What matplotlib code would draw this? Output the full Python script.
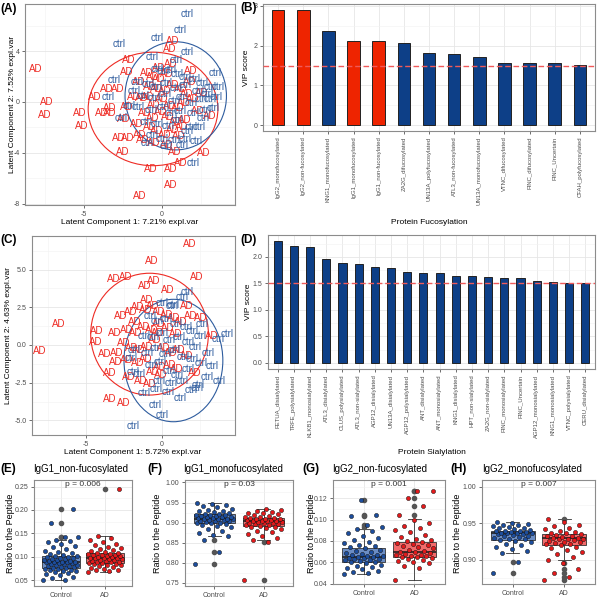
import numpy as np
import matplotlib
matplotlib.use("Agg")
import matplotlib.pyplot as plt
from matplotlib.patches import Ellipse

plt.rcParams['font.family'] = ['Liberation Sans', 'DejaVu Sans']

AD_COL = '#EE2B24'
CTRL_COL = '#2E5C9E'

# ---- (A) PLS-DA scores, fucosylation ----
a_ad = [(-8.14, 2.59), (-7.4, 0.0), (-7.5, -1.0), (-5.3, -0.9), (-5.15, -1.86), (-4.3, 0.37),
        (-3.85, -0.89), (-3.33, -0.89), (-3.55, 1.0), (-2.86, 1.0), (-3.33, -0.5), (-2.8, -2.85),
        (-2.2, -2.85), (-2.5, -3.95), (-1.45, -2.6), (-1.2, -3.0), (-2.26, 2.33), (-2.16, 3.3),
        (-2.26, -0.4), (-2.44, -1.33), (-1.84, 0.42), (-1.3, 0.3), (0.51, 4.16), (0.72, 4.78),
        (1.84, 2.4), (2.7, -4.0), (3.08, -1.1), (1.22, -4.8), (-0.73, -5.28), (0.56, -5.28),
        (0.58, -6.56), (-1.41, -7.37), (2.54, 0.73), (1.5, -1.4),
        (-1.0, 2.3), (-0.6, 2.0), (-0.2, 1.8), (0.3, 2.2), (-0.8, 1.2), (-0.3, 1.0), (0.2, 0.9),
        (0.7, 1.3), (1.2, 1.0), (1.6, 0.6), (-1.5, 1.6), (-0.9, 0.4), (-0.5, -0.2), (0.0, 0.2),
        (0.5, -0.3), (1.0, -0.5), (1.4, -0.1), (2.0, 0.2), (-1.1, -0.9), (-0.6, -1.3), (-0.1, -0.8),
        (0.4, -1.2), (0.9, -1.6), (1.3, -2.0), (-0.8, -2.0), (-0.3, -2.3), (0.2, -2.6), (0.7, -2.2),
        (1.1, -2.7), (-0.5, -3.2), (0.3, -3.4), (0.8, -3.9), (2.3, -0.7), (-1.6, -1.7), (1.8, 1.6),
        (-0.2, 2.7), (0.6, 3.0)]
a_ctrl = [(1.62, 6.9), (1.15, 5.65), (-2.76, 4.55), (-0.3, 5.04), (-0.62, 3.55), (1.62, 3.9),
          (0.94, 3.3), (-3.08, 1.73), (3.4, 2.25), (3.6, 1.15), (3.08, 0.2), (2.65, -1.28),
          (1.86, -1.94), (-0.98, -3.19), (2.0, -4.8), (1.3, -3.4), (0.3, -3.5), (-3.44, 0.37),
          (-2.6, -1.3), (-1.62, 1.6),
          (-0.3, 2.6), (0.1, 2.4), (0.5, 2.5), (1.0, 2.2), (1.5, 2.0), (2.1, 1.8), (2.6, 1.5),
          (3.1, 1.2), (-0.9, 1.4), (-0.4, 1.2), (0.3, 1.5), (0.9, 1.1), (1.5, 1.3), (2.3, 0.9),
          (2.9, 0.6), (3.5, 0.4), (-1.2, 0.5), (-0.5, 0.3), (0.2, 0.6), (0.8, 0.1), (1.3, 0.4),
          (1.9, -0.1), (2.5, 0.2), (3.3, -0.5), (-1.5, -0.4), (-0.7, -0.6), (0.1, -0.4), (0.6, -0.9),
          (1.2, -0.7), (2.0, -0.9), (2.8, -0.6), (-1.0, -1.6), (-0.3, -1.7), (0.4, -1.9), (1.0, -1.4),
          (1.6, -2.3), (2.4, -2.0), (-0.6, -2.6), (0.0, -2.9), (0.8, -3.0), (1.5, -2.9), (2.2, -3.1),
          (-1.8, 0.9), (-2.1, -0.3)]
# ellipses: centre x, centre y, width, height, angle
a_ad_ell = (-0.57, -0.55, 8.34, 8.92, 0)
a_ctrl_ell = (0.89, 0.48, 6.52, 8.5, 0)

# ---- (C) PLS-DA scores, sialylation ----
c_ad = [(1.8, 6.7), (-0.68, 5.6), (-3.16, 4.36), (-2.37, 4.53), (-1.12, 3.94), (-0.53, 4.27),
        (2.28, 4.49), (0.37, 3.65), (-1.0, 2.99), (-6.78, 1.37), (-8.03, -0.38), (-4.3, 0.95),
        (-4.34, 0.18), (-3.75, -0.6), (-3.03, -1.15), (-3.47, -1.84), (-3.42, -3.6), (-2.54, -3.87),
        (-2.98, -0.51), (-3.09, 0.82), (-2.7, 1.92), (-2.04, 2.21), (-1.8, 1.5), (1.62, 2.59),
        (1.89, 1.92), (2.57, 1.77), (3.27, 0.62), (2.17, -1.84), (1.6, -0.7), (-2.2, -2.14),
        (-0.13, -1.44),
        (-1.6, 2.5), (-1.1, 2.3), (-0.6, 2.6), (-0.2, 2.2), (0.3, 2.0), (0.8, 1.8), (1.2, 1.5),
        (-2.3, 1.0), (-1.7, 0.8), (-1.2, 1.2), (-0.7, 1.0), (-0.2, 1.4), (0.4, 1.1), (0.9, 0.7),
        (-2.5, 0.1), (-2.0, -0.2), (-1.5, -0.3), (-1.0, -0.1), (-0.5, 0.3), (0.1, -0.2), (0.6, -0.5),
        (1.1, -0.3), (-2.3, -1.0), (-1.6, -1.2), (-1.1, -0.9), (-0.6, -1.8), (-0.1, -2.0), (0.5, -1.3),
        (1.0, -1.6), (-1.4, -2.4), (-0.8, -2.6), (-0.3, 0.8)]
c_ctrl = [(1.62, 3.54), (1.3, 3.2), (0.74, 2.65), (4.26, 0.73), (3.7, 0.38), (2.5, 0.62),
          (3.05, -0.55), (2.61, 1.37), (3.77, -2.37), (1.3, -2.37), (2.39, -2.65), (2.3, -2.85),
          (1.18, -3.54), (0.41, -3.1), (-0.4, -2.9), (-1.93, -1.77), (-1.5, -1.9), (-2.0, -0.88),
          (-1.84, -0.3), (-0.46, -3.98), (0.04, -4.64), (-1.89, -5.37), (2.94, -2.1), (0.0, 2.8),
          (0.64, 2.6),
          (-0.8, 1.9), (-0.3, 1.6), (0.3, 1.7), (0.9, 1.4), (1.6, 1.2), (2.0, 0.9), (-1.2, 0.6),
          (-0.6, 0.5), (0.0, 0.8), (0.5, 0.3), (1.1, 0.5), (1.7, 0.2), (2.2, -0.1), (-1.0, -0.5),
          (-0.4, -0.2), (0.2, -0.6), (0.8, -0.3), (1.4, -0.8), (2.0, -0.9), (2.6, -1.2), (-0.7, -1.3),
          (-0.1, -1.1), (0.5, -1.7), (1.0, -2.0), (1.7, -1.6), (-0.2, -2.4), (0.6, -2.5), (1.9, -3.0),
          (3.3, -1.4), (-1.2, -3.2)]
c_ad_ell = (-0.82, 0.72, 7.74, 8.08, 0)
c_ctrl_ell = (0.75, -1.03, 6.5, 8.12, 0)

# ---- (B) VIP scores, fucosylation ----
fuc_names = ['IgG2_monofucosylated', 'IgG2_non-fucosylated', 'KNG1_monofucosylated',
             'IgG1_monofucosylated', 'IgG1_non-fucosylated', 'ZA2G_difucosylated',
             'UN13A_polyfucosylated', 'ATL3_non-fucosylated', 'UN13A_monofucosylated',
             'VTNC_difucosylated', 'FINC_difucosylated', 'FINC_Uncertain', 'CFAH_polyfucosylated']
fuc_vip = [2.9, 2.9, 2.375, 2.125, 2.125, 2.07, 1.82, 1.80, 1.725, 1.57, 1.56, 1.56, 1.52]
fuc_igg = [True, True, False, True, True, False, False, False, False, False, False, False, False]

# ---- (D) VIP scores, sialylation ----
sia_names = ['FETUA_disialylated', 'TRFE_polysialylated', 'KLKB1_monosialylated', 'ATL3_disialylated',
             'CLUS_polysialylated', 'ATL3_non-sialylated', 'AGP12_disialylated', 'UN13A_disialylated',
             'AGP12_polysialylated', 'ANT_disialylated', 'ANT_monosialylated', 'KNG1_disialylated',
             'HPT_non-sialylated', 'ZA2G_non-sialylated', 'FINC_monosialylated', 'FINC_Uncertain',
             'AGP12_monosialylated', 'KNG1_monosialylated', 'VTNC_polysialylated', 'CERU_disialylated']
sia_vip = [2.30, 2.21, 2.18, 1.97, 1.89, 1.86, 1.81, 1.79, 1.72, 1.69,
           1.69, 1.64, 1.64, 1.62, 1.60, 1.60, 1.55, 1.53, 1.51, 1.50]

# ---- (E)-(H) ratios to the peptide ----
e_ctrl = [0.050, 0.050, 0.055, 0.058, 0.061, 0.063, 0.065, 0.067, 0.069, 0.070, 0.072, 0.073, 0.074,
          0.075, 0.076, 0.077, 0.078, 0.079, 0.080, 0.081, 0.082, 0.083, 0.084, 0.085, 0.086, 0.087,
          0.088, 0.088, 0.089, 0.089, 0.090, 0.091, 0.092, 0.093, 0.094, 0.095, 0.096, 0.097, 0.098,
          0.099, 0.100, 0.101, 0.102, 0.104, 0.106, 0.108, 0.110, 0.113, 0.116, 0.120, 0.124, 0.128,
          0.131, 0.134, 0.137, 0.142, 0.143, 0.172, 0.203]
e_ad = [0.067, 0.069, 0.071, 0.073, 0.075, 0.077, 0.079, 0.080, 0.082, 0.083, 0.084, 0.085, 0.086,
        0.087, 0.088, 0.089, 0.090, 0.091, 0.092, 0.093, 0.094, 0.095, 0.096, 0.097, 0.097, 0.098,
        0.098, 0.099, 0.100, 0.101, 0.102, 0.103, 0.104, 0.105, 0.106, 0.107, 0.108, 0.109, 0.110,
        0.112, 0.114, 0.116, 0.119, 0.122, 0.125, 0.128, 0.131, 0.135, 0.140, 0.145, 0.245]
f_ctrl = [0.797, 0.828, 0.857, 0.866, 0.870, 0.875, 0.880, 0.884, 0.888, 0.891, 0.894, 0.896, 0.898,
          0.899, 0.900, 0.902, 0.903, 0.904, 0.905, 0.906, 0.907, 0.908, 0.909, 0.910, 0.910, 0.911,
          0.912, 0.913, 0.914, 0.915, 0.916, 0.917, 0.918, 0.919, 0.920, 0.921, 0.922, 0.924, 0.926,
          0.928, 0.930, 0.932, 0.935, 0.938, 0.941, 0.944, 0.947, 0.950]
f_ad = [0.757, 0.852, 0.857, 0.862, 0.867, 0.872, 0.876, 0.880, 0.883, 0.886, 0.888, 0.890, 0.891,
        0.893, 0.894, 0.896, 0.897, 0.898, 0.899, 0.900, 0.901, 0.902, 0.903, 0.903, 0.904, 0.905,
        0.906, 0.907, 0.908, 0.909, 0.910, 0.911, 0.912, 0.913, 0.915, 0.917, 0.919, 0.921, 0.923,
        0.925, 0.927, 0.929, 0.931, 0.933]
g_ctrl = [0.049, 0.050, 0.051, 0.052, 0.054, 0.055, 0.056, 0.057, 0.058, 0.059, 0.060, 0.060, 0.061,
          0.062, 0.062, 0.063, 0.063, 0.064, 0.064, 0.065, 0.065, 0.066, 0.066, 0.067, 0.067, 0.068,
          0.069, 0.070, 0.071, 0.072, 0.073, 0.074, 0.075, 0.076, 0.078, 0.079, 0.081, 0.083, 0.085,
          0.087, 0.089, 0.091, 0.093, 0.095, 0.103, 0.104, 0.118]
g_ad = [0.0436, 0.055, 0.057, 0.059, 0.060, 0.061, 0.062, 0.063, 0.064, 0.065, 0.065, 0.066, 0.066,
        0.067, 0.067, 0.068, 0.069, 0.070, 0.070, 0.071, 0.072, 0.073, 0.074, 0.075, 0.076, 0.077,
        0.078, 0.079, 0.080, 0.081, 0.082, 0.084, 0.086, 0.088, 0.090, 0.092, 0.094, 0.097, 0.100,
        0.104, 0.113, 0.120, 0.127, 0.127]
h_ctrl = [0.882, 0.897, 0.909, 0.912, 0.915, 0.918, 0.920, 0.922, 0.924, 0.926, 0.927, 0.928, 0.929,
          0.930, 0.931, 0.932, 0.933, 0.934, 0.935, 0.935, 0.936, 0.936, 0.937, 0.937, 0.938, 0.938,
          0.939, 0.939, 0.940, 0.941, 0.942, 0.943, 0.944, 0.945, 0.946, 0.947, 0.948, 0.949, 0.950, 0.951]
h_ad = [0.873, 0.877, 0.882, 0.887, 0.895, 0.900, 0.904, 0.908, 0.911, 0.914, 0.916, 0.918, 0.920,
        0.921, 0.922, 0.923, 0.924, 0.925, 0.926, 0.927, 0.928, 0.929, 0.929, 0.930, 0.930, 0.931,
        0.932, 0.933, 0.934, 0.935, 0.936, 0.937, 0.938, 0.940, 0.942, 0.944, 0.946, 0.948, 0.951, 0.956]

# box stats: (lower whisker, q1, median, q3, upper whisker)
e_stats = [(0.050, 0.077, 0.089, 0.1015, 0.137), (0.067, 0.086, 0.098, 0.109, 0.145)]
f_stats = [(0.866, 0.899, 0.910, 0.921, 0.950), (0.857, 0.891, 0.903, 0.9125, 0.933)]
g_stats = [(0.049, 0.060, 0.0654, 0.0733, 0.091), (0.0436, 0.0648, 0.0701, 0.0789, 0.1004)]
h_stats = [(0.909, 0.9273, 0.9364, 0.9396, 0.951), (0.900, 0.9205, 0.9296, 0.935, 0.9555)]

groups = ['Control', 'AD']

fig = plt.figure(figsize=(6, 6), dpi=100)


def add_ax(l, t, w, h):
    return fig.add_axes([l / 600, 1 - (t + h) / 600, w / 600, h / 600])


def frame(ax):
    ax.set_facecolor('white')
    for s in ax.spines.values():
        s.set_color('#8C8C8C')
        s.set_linewidth(0.8)
    ax.grid(True, which='major', color='#E6E6E6', lw=0.6)
    ax.grid(True, which='minor', color='#F2F2F2', lw=0.4)
    ax.set_axisbelow(True)
    ax.tick_params(which='major', length=2.5, width=0.6, color='#555555',
                   labelsize=5, labelcolor='#4D4D4D', pad=1.5)
    ax.tick_params(which='minor', length=0)


def ptext(x, y, s, **kw):
    # x, y in pixels from the top-left corner
    fig.text(x / 600, 1 - y / 600, s, **kw)


def score_plot(ax, ad_pts, ctrl_pts, ad_ell, ctrl_ell):
    frame(ax)
    for x, y in ad_pts:
        ax.text(x, y, 'AD', color=AD_COL, fontsize=7, ha='center', va='center', clip_on=True)
    for x, y in ctrl_pts:
        ax.text(x, y, 'ctrl', color=CTRL_COL, fontsize=7, ha='center', va='center', clip_on=True)
    for e, c in [(ad_ell, AD_COL), (ctrl_ell, CTRL_COL)]:
        ax.add_patch(Ellipse((e[0], e[1]), e[2], e[3], angle=e[4], fill=False, ec=c, lw=0.8))


def vip_plot(ax, names, vals, colors, ymax):
    frame(ax)
    x = np.arange(len(names))
    ax.bar(x, vals, width=0.5, color=colors, edgecolor='#222222', linewidth=0.7, zorder=2)
    ax.axhline(1.5, color='#F05A5A', ls=(0, (4, 2)), lw=1.0, zorder=3)
    ax.set_xlim(-0.6, len(names) - 0.4)
    ax.set_ylim(-0.05 * ymax, 1.05 * ymax)
    ax.set_xticks(x)
    ax.set_xticklabels(names, rotation=90, fontsize=4.3)


def box_plot(ax, data, stats, title, pval):
    frame(ax)
    bx = []
    for vals, (lo, q1, med, q3, hi) in zip(data, stats):
        bx.append(dict(whislo=lo, q1=q1, med=med, q3=q3, whishi=hi,
                       fliers=[v for v in vals if v < lo or v > hi]))
    art = ax.bxp(bx, positions=[1, 2], widths=0.85, patch_artist=True, capwidths=0.25,
                 boxprops=dict(edgecolor='#333333', linewidth=0.6),
                 medianprops=dict(color='#222222', linewidth=1.2),
                 whiskerprops=dict(color='#333333', linewidth=0.6),
                 capprops=dict(color='#333333', linewidth=0.6),
                 flierprops=dict(marker='o', markerfacecolor='#555555', markeredgecolor='#555555',
                                 markersize=3))
    for patch, fc in zip(art['boxes'], ['#6B8DC4', '#F26B6B']):
        patch.set_facecolor(fc)
    for i, (vals, pc) in enumerate(zip(data, ['#1D4E9E', '#E41A1C'])):
        n = len(vals)
        jit = ((np.arange(n) * 0.6180339887) % 1.0 - 0.5) * 0.78
        ax.scatter(i + 1 + jit, vals, s=9, color=pc, edgecolor='#111111', linewidth=0.35, zorder=4)
    ax.set_xlim(0.4, 2.6)
    ax.set_xticks([1, 2])
    ax.set_xticklabels(groups)
    ax.text(1.5, 0.96, pval, transform=ax.get_xaxis_transform(), ha='center', va='center',
            fontsize=6, color='#333333')


# (A)
ax = add_ax(25, 4, 210, 201)
score_plot(ax, a_ad, a_ctrl, a_ad_ell, a_ctrl_ell)
ax.set_xlim(-8.8, 4.7)
ax.set_ylim(-8.1, 7.7)
ax.set_xticks([-5, 0])
ax.set_xticklabels(['-5', '0'])
ax.set_xticks([-7.5, -2.5, 2.5], minor=True)
ax.set_yticks([-8, -4, 0, 4])
ax.set_yticklabels(['-8', '-4', '0', '4'])
ax.set_yticks([-6, -2, 2, 6], minor=True)

# (C)
ax = add_ax(32, 236, 203, 199)
score_plot(ax, c_ad, c_ctrl, c_ad_ell, c_ctrl_ell)
ax.set_xlim(-8.55, 4.8)
ax.set_ylim(-5.97, 7.23)
ax.set_xticks([-5, 0])
ax.set_xticklabels(['-5', '0'])
ax.set_xticks([-7.5, -2.5, 2.5], minor=True)
ax.set_yticks([-5, -2.5, 0, 2.5, 5])
ax.set_yticklabels(['-5.0', '-2.5', '0.0', '2.5', '5.0'])
ax.set_yticks([-3.75, -1.25, 1.25, 3.75, 6.25], minor=True)

# (B)
ax = add_ax(263, 4, 332, 127)
vip_plot(ax, fuc_names, fuc_vip, ['#EE2400' if r else '#0D3F87' for r in fuc_igg], 2.9)
ax.set_yticks([0, 1, 2, 3])
ax.set_yticks([0.5, 1.5, 2.5], minor=True)

# (D)
ax = add_ax(268, 235, 327, 134)
vip_plot(ax, sia_names, sia_vip, ['#0D3F87'] * len(sia_names), 2.30)
ax.set_yticks([0, 0.5, 1.0, 1.5, 2.0])
ax.set_yticklabels(['0.0', '0.5', '1.0', '1.5', '2.0'])
ax.set_yticks([0.25, 0.75, 1.25, 1.75, 2.25], minor=True)

# (E)
ax = add_ax(34, 480, 98, 106)
box_plot(ax, [e_ctrl, e_ad], e_stats, 'IgG1_non-fucosylated', 'p = 0.006')
ax.set_ylim(0.0378, 0.264)
ax.set_yticks([0.05, 0.10, 0.15, 0.20, 0.25])
ax.set_yticklabels(['0.05', '0.10', '0.15', '0.20', '0.25'])
ax.set_yticks([0.075, 0.125, 0.175, 0.225], minor=True)

# (F)
ax = add_ax(185, 480, 108, 106)
box_plot(ax, [f_ctrl, f_ad], f_stats, 'IgG1_monofucosylated', 'p = 0.03')
ax.set_ylim(0.7425, 1.006)
ax.set_yticks([0.75, 0.80, 0.85, 0.90, 0.95, 1.00])
ax.set_yticklabels(['0.75', '0.80', '0.85', '0.90', '0.95', '1.00'])
ax.set_yticks([0.775, 0.825, 0.875, 0.925, 0.975], minor=True)

# (G)
ax = add_ax(333, 480, 112, 104)
box_plot(ax, [g_ctrl, g_ad], g_stats, 'IgG2_non-fucosylated', 'p = 0.001')
ax.set_ylim(0.0398, 0.137)
ax.set_yticks([0.04, 0.06, 0.08, 0.10, 0.12])
ax.set_yticklabels(['0.04', '0.06', '0.08', '0.10', '0.12'])
ax.set_yticks([0.05, 0.07, 0.09, 0.11, 0.13], minor=True)

# (H)
ax = add_ax(482, 480, 113, 104)
box_plot(ax, [h_ctrl, h_ad], h_stats, 'IgG2_monofucosylated', 'p = 0.007')
ax.set_ylim(0.867, 1.009)
ax.set_yticks([0.90, 0.95, 1.00])
ax.set_yticklabels(['0.90', '0.95', '1.00'])
ax.set_yticks([0.875, 0.925, 0.975], minor=True)

# panel letters
bold = dict(fontsize=8.5, fontweight='bold', ha='left', va='center')
for lab, x, y in [('(A)', 0, 9), ('(B)', 240, 8), ('(C)', 0, 240), ('(D)', 240, 240),
                  ('(E)', 0, 469), ('(F)', 147, 469), ('(G)', 302, 469), ('(H)', 450, 469)]:
    ptext(x, y, lab, **bold)

# panel titles for the box plots
for lab, x in [('IgG1_non-fucosylated', 33), ('IgG1_monofucosylated', 183),
               ('IgG2_non-fucosylated', 332), ('IgG2_monofucosylated', 482)]:
    ptext(x, 469, lab, fontsize=7, ha='left', va='center')

# axis titles
ax_t = dict(fontsize=6, ha='center', va='center')
ptext(130, 222, 'Latent Component 1: 7.21% expl.var', **ax_t)
ptext(13, 104, 'Latent Component 2: 7.52% expl.var', rotation=90, **ax_t)
ptext(133, 452, 'Latent Component 1: 5.72% expl.var', **ax_t)
ptext(9, 335, 'Latent Component 2: 4.63% expl.var', rotation=90, **ax_t)
ptext(429, 222, 'Protein Fucosylation', **ax_t)
ptext(432, 452, 'Protein Sialylation', **ax_t)
ptext(247, 68, 'VIP score', rotation=90, **ax_t)
ptext(249, 302, 'VIP score', rotation=90, **ax_t)
for x in [11, 158, 311, 458]:
    ptext(x, 533, 'Ratio to the Peptide', rotation=90, fontsize=6.5, ha='center', va='center')

fig.savefig('out.png', dpi=100)
